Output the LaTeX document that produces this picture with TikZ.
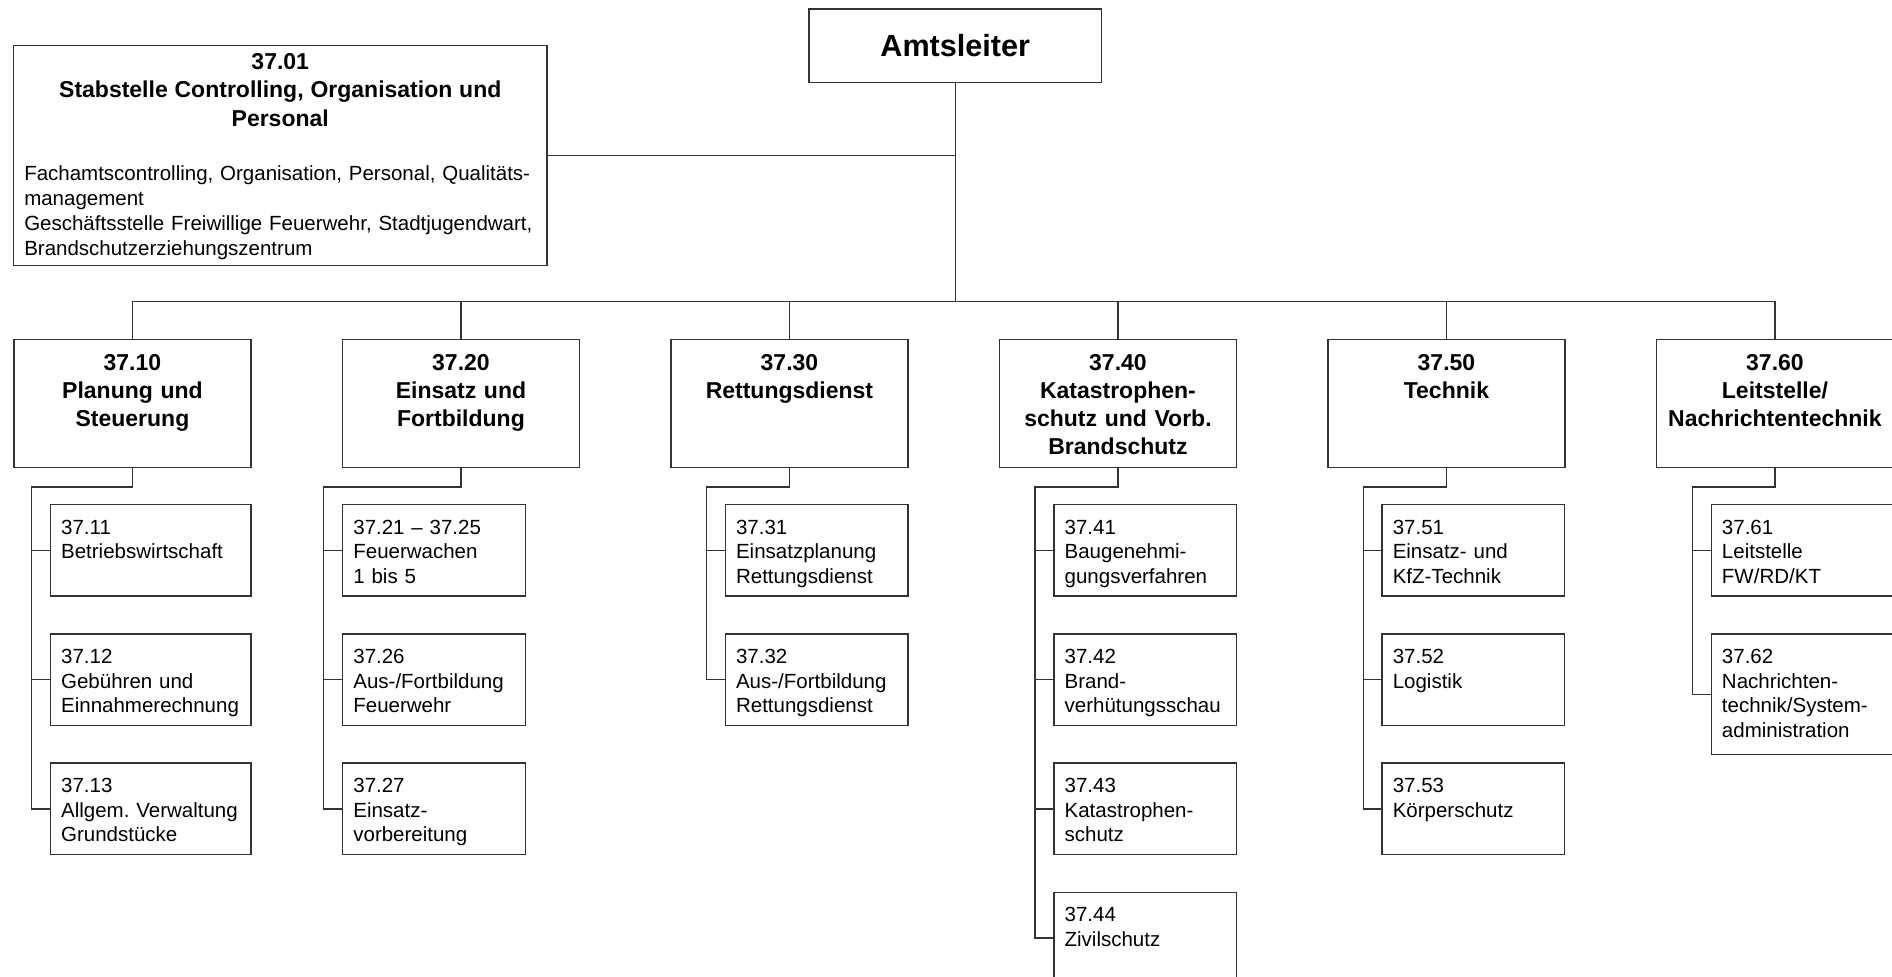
\documentclass[tikz,border=0pt]{standalone}
\usepackage{fontspec}
\setmainfont{Liberation Sans}
\frenchspacing
\definecolor{linieGrau}{HTML}{333333}

\begin{document}
\begin{tikzpicture}[x=0.5pt,y=-0.5pt,
  linie/.style={draw=linieGrau,line width=0.65pt},
  leitung/.style={linie,anchor=north west,minimum width=146.2pt,minimum height=36.7pt,
    inner sep=0pt,font=\fontsize{15.3}{18}\selectfont\bfseries},
  stab/.style={linie,anchor=north west,text width=256pt,inner xsep=5.4pt,inner ysep=3pt,
    text height=9pt,text depth=95pt,align=left,font=\fontsize{10.25}{12.5}\selectfont},
  abteilung/.style={linie,anchor=north west,text width=112.5pt,inner xsep=3pt,inner ysep=6.5pt,
    text height=9pt,text depth=42pt,align=center,font=\fontsize{11.5}{14.1}\selectfont\bfseries},
  sachgebiet/.style={linie,anchor=north west,text width=80.6pt,inner xsep=5.35pt,inner ysep=5.8pt,
    text height=9pt,text depth=25.15pt,align=left,font=\fontsize{10.25}{12.25}\selectfont},
  breit/.style={text width=89.6pt},
  hoch/.style={text depth=39.75pt}]
  \useasboundingbox (0,0) rectangle (1892,977);

  % Leitung und Stabstelle
  \node[leitung] (amt) at (808.4,8.3) {Amtsleiter};
  \node[stab] (stab) at (12.8,45) {{\centering\bfseries\fontsize{11.5}{14.15}\selectfont
    37.01\\Stabstelle Controlling, Organisation und\\Personal\par}\vspace{14.5pt}%
    Fachamtscontrolling, Organisation, Personal, Qualitäts-\\management\\
    Geschäftsstelle Freiwillige Feuerwehr, Stadtjugendwart,\\Brandschutzerziehungszentrum};

  % Abteilungen
  \node[abteilung] (a10) at (13.3,338.7) {37.10\\Planung und\\Steuerung};
  \node[abteilung] (a20) at (341.8,338.7) {37.20\\Einsatz und\\Fortbildung};
  \node[abteilung] (a30) at (670.3,338.7) {37.30\\Rettungsdienst};
  \node[abteilung] (a40) at (998.8,338.7) {37.40\\Katastrophen-\\schutz und Vorb.\\Brandschutz};
  \node[abteilung] (a50) at (1327.3,338.7) {37.50\\Technik};
  \node[abteilung] (a60) at (1655.8,338.7) {37.60\\Leitstelle/\\Nachrichtentechnik};

  % Sachgebiete
  \node[sachgebiet,breit] (s11) at (49.8,504) {37.11\\Betriebswirtschaft};
  \node[sachgebiet,breit] (s12) at (49.8,633.3) {37.12\\Gebühren und\\Einnahmerechnung};
  \node[sachgebiet,breit] (s13) at (49.8,762.5) {37.13\\Allgem. Verwaltung\\Grundstücke};

  \node[sachgebiet] (s21) at (342,504) {37.21 – 37.25\\Feuerwachen\\1 bis 5};
  \node[sachgebiet] (s26) at (342,633.3) {37.26\\Aus-/Fortbildung\\Feuerwehr};
  \node[sachgebiet] (s27) at (342,762.5) {37.27\\Einsatz-\\vorbereitung};

  \node[sachgebiet] (s31) at (724.7,504) {37.31\\Einsatzplanung\\Rettungsdienst};
  \node[sachgebiet] (s32) at (724.7,633.3) {37.32\\Aus-/Fortbildung\\Rettungsdienst};

  \node[sachgebiet] (s41) at (1053.3,504) {37.41\\Baugenehmi-\\gungsverfahren};
  \node[sachgebiet] (s42) at (1053.3,633.3) {37.42\\Brand-\\verhütungsschau};
  \node[sachgebiet] (s43) at (1053.3,762.5) {37.43\\Katastrophen-\\schutz};
  \node[sachgebiet] (s44) at (1053.3,891.7) {37.44\\Zivilschutz};

  \node[sachgebiet] (s51) at (1381.4,504) {37.51\\Einsatz- und\\KfZ-Technik};
  \node[sachgebiet] (s52) at (1381.4,633.3) {37.52\\Logistik};
  \node[sachgebiet] (s53) at (1381.4,762.5) {37.53\\Körperschutz};

  \node[sachgebiet] (s61) at (1710.6,504) {37.61\\Leitstelle\\FW/RD/KT};
  \node[sachgebiet,hoch] (s62) at (1710.6,633.3) {37.62\\Nachrichten-\\technik/System-\\administration};

  % Verbindungen oben
  \coordinate (bus) at ([yshift=18.5pt]a10.north);
  \draw[linie] (amt.south) -- (amt.south |- bus);
  \draw[linie] (stab.east) -- (stab.east -| amt.south);
  \draw[linie] (a10.north) -- (bus) -| (a60.north);
  \draw[linie] (a20.north) -- (a20.north |- bus);
  \draw[linie] (a30.north) -- (a30.north |- bus);
  \draw[linie] (a40.north) -- (a40.north |- bus);
  \draw[linie] (a50.north) -- (a50.north |- bus);

  % Verbindungen zu den Sachgebieten
  \draw[linie] (a10.south) -- ++(0,19) -| ([xshift=-9.1pt]s13.west) -- (s13.west);
  \draw[linie] (s11.west) -- ++(-18.2,0);
  \draw[linie] (s12.west) -- ++(-18.2,0);

  \draw[linie] (a20.south) -- ++(0,19) -| ([xshift=-9.1pt]s27.west) -- (s27.west);
  \draw[linie] (s21.west) -- ++(-18.2,0);
  \draw[linie] (s26.west) -- ++(-18.2,0);

  \draw[linie] (a30.south) -- ++(0,19) -| ([xshift=-9.1pt]s32.west) -- (s32.west);
  \draw[linie] (s31.west) -- ++(-18.2,0);

  \draw[linie] (a40.south) -- ++(0,19) -| ([xshift=-9.1pt]s44.west) -- (s44.west);
  \draw[linie] (s41.west) -- ++(-18.2,0);
  \draw[linie] (s42.west) -- ++(-18.2,0);
  \draw[linie] (s43.west) -- ++(-18.2,0);

  \draw[linie] (a50.south) -- ++(0,19) -| ([xshift=-9.1pt]s53.west) -- (s53.west);
  \draw[linie] (s51.west) -- ++(-18.2,0);
  \draw[linie] (s52.west) -- ++(-18.2,0);

  \draw[linie] (a60.south) -- ++(0,19) -| ([xshift=-9.1pt]s62.west) -- (s62.west);
  \draw[linie] (s61.west) -- ++(-18.2,0);
\end{tikzpicture}
\end{document}
